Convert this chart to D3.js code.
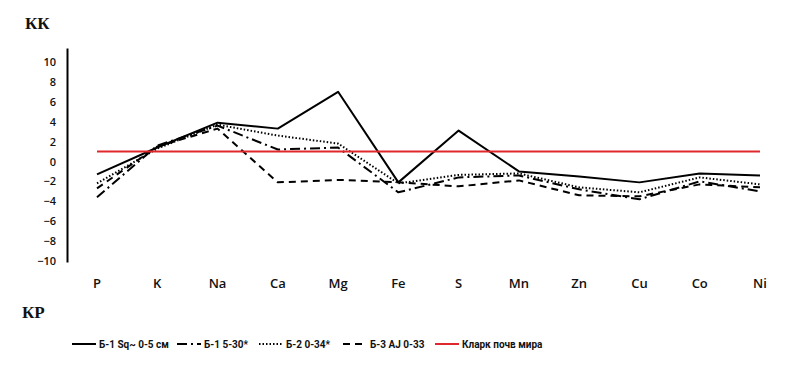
<!DOCTYPE html>
<html>
<head>
<meta charset="utf-8">
<script src="https://cdn.jsdelivr.net/npm/d3@7"></script>
<style>
  body { margin: 0; background: #fff; }
  svg { display: block; }
  .axis text { font-family: "Open Sans", "Noto Sans", sans-serif; font-size: 11px; font-weight: 600; fill: #111; }
  .lbl { font-family: "Liberation Serif", "Times New Roman", serif; font-weight: bold; font-size: 17px; fill: #111; }
  .cat { font-family: "Open Sans", "Noto Sans", sans-serif; font-size: 13px; font-weight: 600; fill: #111; }
  .leg { font-family: Roboto, "Open Sans", sans-serif; font-size: 10px; font-weight: bold; fill: #111; }
</style>
</head>
<body>
<svg id="chart"></svg>
<script>
const elements = ['P', 'K', 'Na', 'Ca', 'Mg', 'Fe', 'S', 'Mn', 'Zn', 'Cu', 'Co', 'Ni'];
const yTicks = [-10, -8, -6, -4, -2, 0, 2, 4, 6, 8, 10];

const b1top = [-1.3, 1.4, 3.9, 3.3, 7.0, -2.1, 3.1, -1.0, -1.5, -2.1, -1.2, -1.4];
const b1sub = [-3.6, 1.6, 3.6, 1.2, 1.4, -3.1, -1.6, -1.4, -2.8, -3.8, -2.0, -3.0];
const b2 = [-2.2, 1.3, 3.7, 2.6, 1.8, -2.2, -1.35, -1.2, -2.6, -3.1, -1.6, -2.3];
const b3 = [-2.7, 1.5, 3.3, -2.1, -1.85, -2.1, -2.5, -1.9, -3.4, -3.5, -2.3, -2.6];
const clark = [1, 1, 1, 1, 1, 1, 1, 1, 1, 1, 1, 1];

const series = [
  {name: 'Б-1 Sq~ 0-5 см', values: b1top, color: '#000', dash: null, width: 2},
  {name: 'Б-1 5-30*', values: b1sub, color: '#000', dash: '10,4,2,4', width: 2},
  {name: 'Б-2 0-34*', values: b2, color: '#000', dash: '1.5,2', width: 2},
  {name: 'Б-3 AJ 0-33', values: b3, color: '#000', dash: '7,5', width: 2},
  {name: 'Кларк почв мира', values: clark, color: '#e0282c', dash: null, width: 2}
];

const W = 805, H = 365;
const svg = d3.select('#chart').attr('width', W).attr('height', H);

var xScale = d3.scalePoint().domain(elements).range([97, 760]);
var yScale = d3.scaleLinear().domain([-10.1, 11.4]).range([262, 48]);

// y axis
var gY = svg.append('g')
  .attr('class', 'axis')
  .attr('transform', 'translate(67,0)')
  .call(d3.axisLeft(yScale).tickValues(yTicks).tickSize(0).tickPadding(11));
gY.select('.domain').attr('stroke', '#000').attr('stroke-width', 2);

// category labels
svg.selectAll('.cat')
  .data(elements)
  .enter()
  .append('text')
  .attr('class', 'cat')
  .attr('x', d => xScale(d))
  .attr('y', 288)
  .attr('text-anchor', 'middle')
  .text(d => d);

// axis titles
svg.append('text').attr('class', 'lbl').attr('x', 25).attr('y', 29).text('КК');
svg.append('text').attr('class', 'lbl').attr('x', 22).attr('y', 318).text('КР');

// lines
var line = d3.line()
  .x((d, i) => xScale(elements[i]))
  .y(d => yScale(d));

svg.selectAll('.series')
  .data(series)
  .enter()
  .append('path')
  .attr('class', 'series')
  .attr('d', d => line(d.values))
  .attr('fill', 'none')
  .attr('stroke', d => d.color)
  .attr('stroke-width', d => d.width)
  .attr('stroke-dasharray', d => d.dash)
  .attr('stroke-linejoin', 'round');

// legend
const legX = [72, 177, 259, 343, 435];
var leg = svg.selectAll('.legItem')
  .data(series)
  .enter()
  .append('g')
  .attr('class', 'legItem')
  .attr('transform', (d, i) => 'translate(' + legX[i] + ',344)');

leg.append('line')
  .attr('x1', 0).attr('x2', 24)
  .attr('y1', 0).attr('y2', 0)
  .attr('stroke', d => d.color)
  .attr('stroke-width', 2)
  .attr('stroke-dasharray', d => d.dash);

leg.append('text')
  .attr('class', 'leg')
  .attr('x', 27)
  .attr('y', 4)
  .text(d => d.name);
</script>
</body>
</html>
